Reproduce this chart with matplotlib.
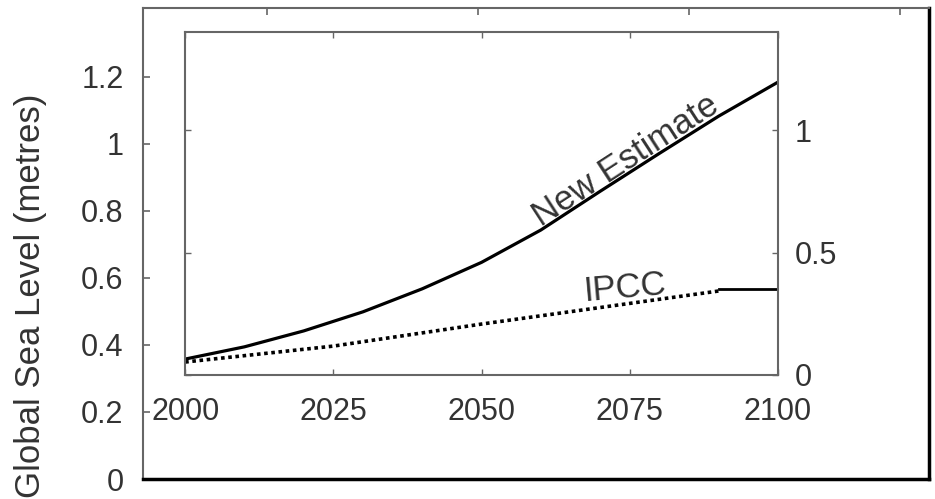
import matplotlib
matplotlib.use("Agg")
import matplotlib.pyplot as plt

plt.rcParams["font.family"] = ["Liberation Sans", "DejaVu Sans"]

# data (inner axes units, metres above 2000 level)
YEARS_NEW = [2000, 2010, 2020, 2030, 2040, 2050, 2060, 2070, 2080, 2090, 2100]
NEW_ESTIMATE = [0.065, 0.115, 0.18, 0.258, 0.352, 0.46, 0.592, 0.75, 0.905, 1.057, 1.196]
YEARS_IPCC = [2000, 2025, 2050, 2090]
IPCC = [0.053, 0.118, 0.208, 0.343]
YEARS_IPCC_END = [2090, 2100]
IPCC_END = [0.352, 0.352]

OUTER_YTICKS = [0, 0.2, 0.4, 0.6, 0.8, 1, 1.2]
OUTER_YLABELS = ["0", "0.2", "0.4", "0.6", "0.8", "1", "1.2"]
INNER_XTICKS = [2000, 2025, 2050, 2075, 2100]
INNER_YTICKS = [0, 0.5, 1]
INNER_YLABELS = ["0", "0.5", "1"]

TXT = "#333333"
GREY = "#666666"
FS = 22

fig = plt.figure(figsize=(9.35, 4.99), dpi=100)

# outer frame: global sea level axis
outer = fig.add_axes([0.153, 0.040, 0.841, 0.944])
outer.set_ylim(0, 1.405)
outer.set_xlim(-0.59, 3.14)
outer.set_yticks(OUTER_YTICKS)
outer.set_yticklabels(OUTER_YLABELS, fontsize=FS, color=TXT)
outer.set_xticks([0, 1, 2, 3])
outer.tick_params(axis="y", direction="in", length=5, width=1.2, color=GREY, pad=14)
outer.tick_params(axis="x", direction="in", length=5, width=1.2, color=GREY,
                  bottom=False, top=True, labelbottom=False, labeltop=False)
outer.spines["left"].set_color(GREY)
outer.spines["left"].set_linewidth(1.5)
outer.spines["top"].set_color(GREY)
outer.spines["top"].set_linewidth(1.5)
outer.spines["bottom"].set_color("black")
outer.spines["bottom"].set_linewidth(2.5)
outer.spines["right"].set_color("black")
outer.spines["right"].set_linewidth(2.5)
fig.text(31 / 935, 1 - 296 / 499, "Global Sea Level (metres)", rotation=90,
         ha="center", va="center", fontsize=25, color=TXT)

# inner box: projection to 2100
inner = fig.add_axes([0.198, 0.2485, 0.634, 0.687])
inner.set_xlim(2000, 2100)
inner.set_ylim(0, 1.40)
inner.plot(YEARS_NEW, NEW_ESTIMATE, color="black", lw=2.3, solid_capstyle="butt")
inner.plot(YEARS_IPCC, IPCC, color="black", lw=2.6, linestyle=(0, (1, 1)))
inner.plot(YEARS_IPCC_END, IPCC_END, color="black", lw=2.0)
inner.text(2060, 0.605, "New Estimate", rotation=33, rotation_mode="anchor",
           ha="left", va="baseline", fontsize=25, color=TXT)
inner.text(2067.5, 0.272, "IPCC", rotation=5, rotation_mode="anchor",
           ha="left", va="bottom", fontsize=25, color=TXT)

inner.set_xticks(INNER_XTICKS)
inner.set_xticklabels([str(y) for y in INNER_XTICKS], fontsize=FS, color=TXT)
inner.set_yticks(INNER_YTICKS)
inner.set_yticklabels(INNER_YLABELS, fontsize=FS, color=TXT)
inner.tick_params(axis="x", direction="in", length=4, width=1, color=GREY,
                  top=True, pad=16)
inner.tick_params(axis="y", direction="in", length=4, width=1, color=GREY,
                  left=True, right=True, labelleft=False, labelright=True, pad=12)
for side in ["left", "right", "top", "bottom"]:
    inner.spines[side].set_color(GREY)
    inner.spines[side].set_linewidth(1.5)

fig.savefig("out.png", dpi=100)
